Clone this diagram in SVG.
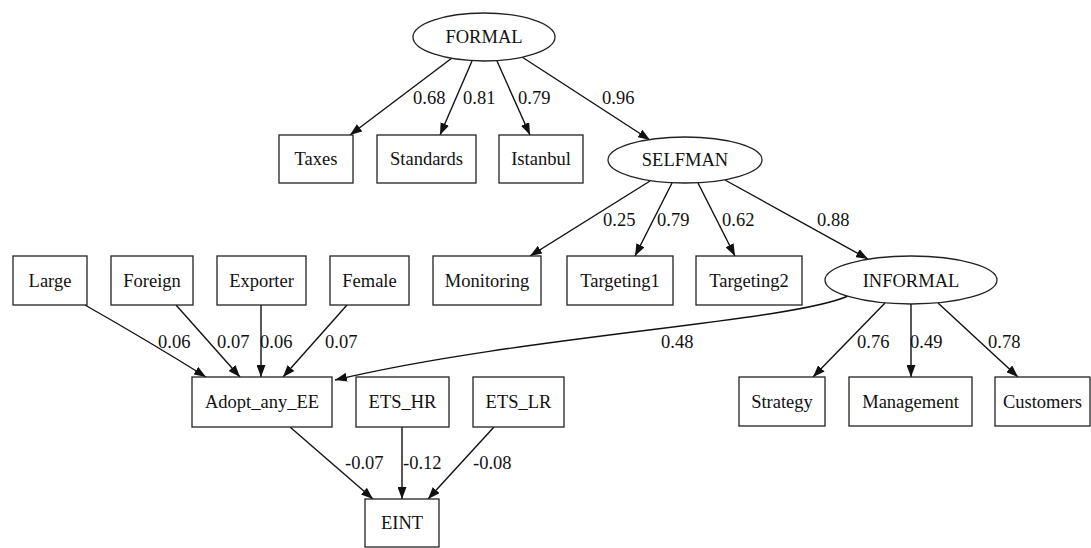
<svg xmlns="http://www.w3.org/2000/svg" width="1091" height="548" viewBox="0 0 1091 548">
<style>
.n rect, .n ellipse { fill: #fff; stroke: #222; stroke-width: 1.3; }
text { font-family: "Liberation Serif", "Times New Roman", serif; font-size: 18.5px; fill: #111; }
.n text { text-anchor: middle; }
.e path { fill: none; stroke: #111; stroke-width: 1.4; marker-end: url(#arr); }
</style>
<defs>
<marker id="arr" markerUnits="userSpaceOnUse" markerWidth="12" markerHeight="9" refX="12" refY="4.5" orient="auto">
<path d="M0,0 L12,4.5 L0,9 z" fill="#111"/>
</marker>
</defs>
<rect width="1091" height="548" fill="#fff"/>
<g id="connectors" class="e">
<path d="M452,58 L350,135"/>
<path d="M472,61 L440,135"/>
<path d="M497,61 L530,135"/>
<path d="M522,57 L650,140"/>
<path d="M650,181 L530,256"/>
<path d="M672,183 L635,256"/>
<path d="M698,183 L735,256"/>
<path d="M725,180 L868,259"/>
<path d="M885,303 L813,377"/>
<path d="M911,304 L911,377"/>
<path d="M938,303 L1018,377"/>
<path d="M848,296 C790,322 520,336 335,380"/>
<path d="M85,305 Q150,342 206,377"/>
<path d="M176,305 L240,377"/>
<path d="M261,305 L261,377"/>
<path d="M347,305 L283,377"/>
<path d="M290,427 L373,499"/>
<path d="M402,427 L402,499"/>
<path d="M494,427 L428,499"/>
</g>
<g id="edge-labels">
<text x="413" y="104">0.68</text>
<text x="463" y="104">0.81</text>
<text x="518" y="104">0.79</text>
<text x="602" y="104">0.96</text>
<text x="603" y="226">0.25</text>
<text x="657" y="226">0.79</text>
<text x="722" y="226">0.62</text>
<text x="817" y="226">0.88</text>
<text x="661" y="348">0.48</text>
<text x="857" y="348">0.76</text>
<text x="910" y="348">0.49</text>
<text x="988" y="348">0.78</text>
<text x="158" y="348">0.06</text>
<text x="217" y="348">0.07</text>
<text x="260" y="348">0.06</text>
<text x="325" y="348">0.07</text>
<text x="345" y="469">-0.07</text>
<text x="403" y="469">-0.12</text>
<text x="473" y="469">-0.08</text>
</g>
<g id="FORMAL" class="n"><ellipse cx="484" cy="37" rx="71" ry="24"/><text x="484" y="43">FORMAL</text></g>
<g id="SELFMAN" class="n"><ellipse cx="685" cy="160" rx="77" ry="23"/><text x="685" y="166">SELFMAN</text></g>
<g id="INFORMAL" class="n"><ellipse cx="911" cy="280" rx="86" ry="24"/><text x="911" y="287">INFORMAL</text></g>
<g id="Taxes" class="n"><rect x="279" y="135" width="74" height="48"/><text x="316" y="165">Taxes</text></g>
<g id="Standards" class="n"><rect x="377" y="135" width="99" height="48"/><text x="426.5" y="165">Standards</text></g>
<g id="Istanbul" class="n"><rect x="499" y="135" width="84" height="48"/><text x="541" y="165">Istanbul</text></g>
<g id="Monitoring" class="n"><rect x="433" y="256" width="108" height="49"/><text x="487" y="287">Monitoring</text></g>
<g id="Targeting1" class="n"><rect x="567" y="256" width="106" height="49"/><text x="620" y="287">Targeting1</text></g>
<g id="Targeting2" class="n"><rect x="696" y="256" width="106" height="49"/><text x="749" y="287">Targeting2</text></g>
<g id="Large" class="n"><rect x="13" y="256" width="74" height="49"/><text x="50" y="287">Large</text></g>
<g id="Foreign" class="n"><rect x="111" y="256" width="82" height="49"/><text x="152" y="287">Foreign</text></g>
<g id="Exporter" class="n"><rect x="217" y="256" width="89" height="49"/><text x="261.5" y="287">Exporter</text></g>
<g id="Female" class="n"><rect x="330" y="256" width="79" height="49"/><text x="369.5" y="287">Female</text></g>
<g id="Adopt_any_EE" class="n"><rect x="192" y="377" width="140" height="50"/><text x="262" y="408">Adopt_any_EE</text></g>
<g id="ETS_HR" class="n"><rect x="356" y="377" width="93" height="50"/><text x="402.5" y="408">ETS_HR</text></g>
<g id="ETS_LR" class="n"><rect x="473" y="377" width="91" height="50"/><text x="518.5" y="408">ETS_LR</text></g>
<g id="Strategy" class="n"><rect x="739" y="377" width="86" height="49"/><text x="782" y="408">Strategy</text></g>
<g id="Management" class="n"><rect x="849" y="377" width="123" height="49"/><text x="910.5" y="408">Management</text></g>
<g id="Customers" class="n"><rect x="995" y="377" width="95" height="49"/><text x="1042.5" y="408">Customers</text></g>
<g id="EINT" class="n"><rect x="365" y="499" width="74" height="48"/><text x="402" y="529">EINT</text></g>
</svg>
